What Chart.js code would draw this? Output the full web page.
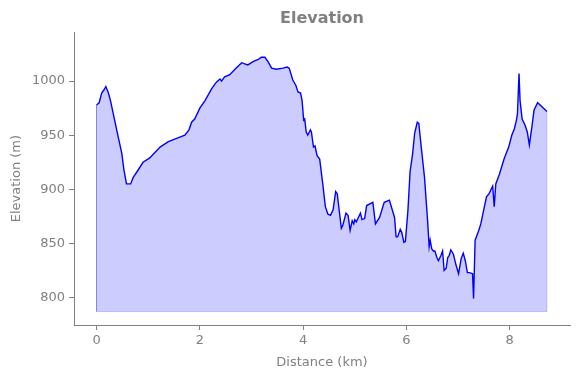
<!DOCTYPE html>
<html>
<head>
<meta charset="utf-8">
<script src="https://cdn.jsdelivr.net/npm/chart.js@4/dist/chart.umd.min.js"></script>
<style>
  html, body { margin: 0; padding: 0; background: #fff; }
  #wrap { width: 580px; height: 378px; }
</style>
</head>
<body>
<div id="wrap"><canvas id="elev" width="580" height="378"></canvas></div>
<script>
// ===== Elevation profile =====
// distance along the track (km) and elevation (m)
const distKm = [
    0.00, 0.05, 0.10, 0.145, 0.18, 0.23, 0.27, 0.39, 0.49, 0.53, 0.58, 0.66, 0.71, 0.78, 0.90,
    1.03, 1.13, 1.23, 1.39, 1.55, 1.71, 1.79, 1.84, 1.90, 2.00, 2.10, 2.23, 2.32, 2.39, 2.42,
    2.48, 2.58, 2.68, 2.81, 2.87, 2.93, 3.03, 3.13, 3.19, 3.26, 3.32, 3.39, 3.48, 3.61, 3.69,
    3.73, 3.80, 3.86, 3.90, 3.95, 3.98, 4.01, 4.03, 4.06, 4.09, 4.14, 4.16, 4.20, 4.23, 4.27,
    4.32, 4.38, 4.43, 4.48, 4.53, 4.58, 4.63, 4.66, 4.74, 4.77, 4.83, 4.87, 4.91, 4.95, 4.98,
    5.00, 5.03, 5.06, 5.11, 5.14, 5.19, 5.23, 5.35, 5.40, 5.48, 5.57, 5.67, 5.77, 5.80, 5.83,
    5.88, 5.91, 5.95, 5.98, 6.03, 6.07, 6.12, 6.16, 6.21, 6.24, 6.28, 6.35, 6.41, 6.44, 6.46,
    6.49, 6.52, 6.55, 6.59, 6.62, 6.67, 6.70, 6.73, 6.77, 6.80, 6.83, 6.86, 6.91, 6.96, 7.01,
    7.06, 7.10, 7.14, 7.18, 7.22, 7.28, 7.30, 7.33, 7.40, 7.44, 7.51, 7.55, 7.60, 7.67, 7.70,
    7.73, 7.80, 7.89, 7.98, 8.04, 8.09, 8.13, 8.15, 8.18, 8.20, 8.24, 8.30, 8.34, 8.38, 8.43,
    8.47, 8.54, 8.63, 8.72
];
const elevM = [
    978, 980, 989, 992, 995, 989, 982, 955, 933, 918, 905, 905, 911, 916, 925,
    929, 934, 939, 944, 947, 950, 955, 962, 965, 975, 982, 993, 999, 1002, 1000,
    1004, 1006, 1011, 1017, 1016, 1015, 1018, 1020, 1022, 1022, 1018, 1012, 1011, 1012, 1013,
    1012, 1001, 996, 990, 989, 982, 964, 965, 953, 950, 955, 953, 939, 940, 931,
    928, 905, 884, 877, 876, 881, 898, 896, 864, 867, 878, 876, 862, 871, 868,
    872, 870, 873, 878, 872, 873, 885, 888, 868, 874, 888, 890, 874, 856, 856,
    863, 860, 851, 852, 881, 916, 933, 952, 962, 961, 942, 911, 871, 847, 853,
    845, 843, 843, 837, 834, 839, 843, 825, 827, 837, 839, 844, 840, 830, 822,
    836, 841, 834, 823, 823, 822, 799, 853, 862, 868, 884, 893, 896, 903, 884,
    905, 914, 928, 939, 950, 956, 964, 970, 1007, 982, 965, 959, 953, 941, 958,
    973, 980, 976, 972
];
const fillBase = 787;

const xTicks = [0, 2, 4, 6, 8];
const yTicks = [800, 850, 900, 950, 1000];

const GREY = '#808080';
const FONT = "'DejaVu Sans', sans-serif";

const profile = distKm.map((x, i) => ({ x, y: elevM[i] }));
const last = distKm.length - 1;
// outline of the shaded polygon (left side, base, right side)
const edge = [
    { x: distKm[0], y: elevM[0] },
    { x: distKm[0], y: fillBase },
    { x: distKm[last], y: fillBase },
    { x: distKm[last], y: elevM[last] }
];

new Chart(document.getElementById('elev'), {
    type: 'line',
    data: {
        datasets: [
            {
                data: profile,
                borderColor: '#0000ff',
                borderWidth: 1.4,
                backgroundColor: 'rgba(0,0,255,.2)',
                fill: { value: fillBase },
                tension: 0,
                pointRadius: 0,
                order: 0
            },
            {
                data: edge,
                borderColor: 'rgba(0,0,255,.2)',
                borderWidth: 1,
                fill: false,
                pointRadius: 0,
                order: 1
            }
        ]
    },
    options: {
        responsive: false,
        animation: false,
        devicePixelRatio: 1,
        layout: { padding: { left: 0, right: 10, top: 0, bottom: 0 } },
        plugins: {
            legend: { display: false },
            tooltip: { enabled: false },
            title: {
                display: true,
                text: 'Elevation',
                color: GREY,
                fullSize: false,
                font: { family: FONT, size: 16, weight: 'bold', lineHeight: 1.2 },
                padding: { top: 9, bottom: 4 }
            }
        },
        scales: {
            x: {
                type: 'linear',
                min: -0.4365,
                max: 9.167,
                afterBuildTicks: s => { s.ticks = xTicks.map(v => ({ value: v })); },
                afterFit: s => { s.height = 53; },
                grid: { drawOnChartArea: false, color: GREY, tickLength: 5 },
                border: { color: GREY, width: 1 },
                ticks: { color: GREY, padding: 3, font: { family: FONT, size: 13 }, callback: v => String(v) },
                title: {
                    display: true,
                    text: 'Distance (km)',
                    color: GREY,
                    font: { family: FONT, size: 13 },
                    padding: { top: 2, bottom: 8 }
                }
            },
            y: {
                min: 774.6,
                max: 1045.2,
                afterBuildTicks: s => { s.ticks = yTicks.map(v => ({ value: v })); },
                afterFit: s => { s.width = 74; },
                grid: { drawOnChartArea: false, color: GREY, tickLength: 5 },
                border: { color: GREY, width: 1 },
                ticks: { color: GREY, padding: 4, font: { family: FONT, size: 13 }, callback: v => String(v) },
                title: {
                    display: true,
                    text: 'Elevation (m)',
                    color: GREY,
                    font: { family: FONT, size: 13 },
                    padding: { top: 9, bottom: 2 }
                }
            }
        }
    }
});
</script>
</body>
</html>
